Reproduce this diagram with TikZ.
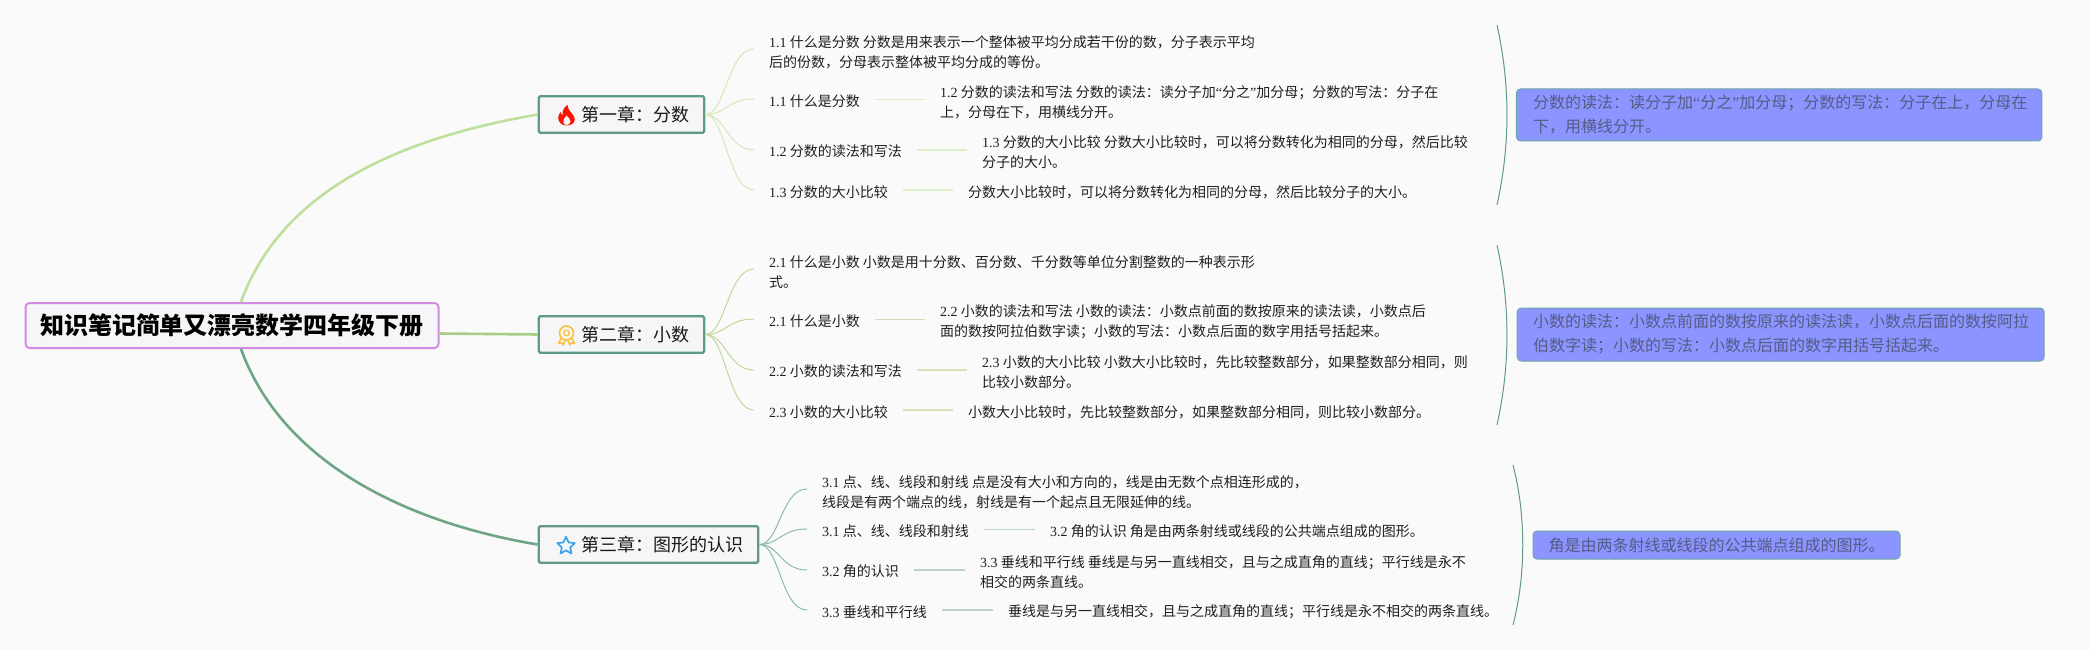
\documentclass[tikz,border=0pt]{standalone}
\usepackage{fontspec}
\setmainfont{Noto Sans CJK SC}
\newfontfamily\latf{Liberation Serif}
\usetikzlibrary{shapes.geometric}
\definecolor{bgc}{HTML}{FAFAFA}
\definecolor{edgeA}{HTML}{BFE09C}
\definecolor{edgeB}{HTML}{A9CC85}
\definecolor{edgeC}{HTML}{6FA585}
\definecolor{brA}{HTML}{D3E9B8}
\definecolor{brB}{HTML}{BFD89E}
\definecolor{brC}{HTML}{8DBBA6}
\definecolor{lnA}{HTML}{DDEFCB}
\definecolor{lnB}{HTML}{D5DFBC}
\definecolor{lnC}{HTML}{B9D3C8}
\definecolor{boxline}{HTML}{5F9A88}
\definecolor{notefill}{HTML}{8C94FF}
\definecolor{noteline}{HTML}{6BA6A6}
\definecolor{notetext}{HTML}{555C85}
\definecolor{rootline}{HTML}{D18BE0}
\definecolor{boxfill}{HTML}{F6F6F8}
\newcommand{\nm}[1]{{\latf #1}}
\newcommand{\qq}[1]{{\latf “}#1{\latf ”}}
\tikzset{
  x=1pt,y=-1pt,
  rootbox/.style={draw=rootline,fill=boxfill,line width=2pt,rounded corners=4pt,minimum width=413pt,minimum height=45pt,inner sep=0pt,font=\fontsize{24}{28}\selectfont\bfseries,text=black},
  chapbox/.style={draw=boxline,fill=boxfill,line width=2.4pt,rounded corners=1.5pt,minimum height=36.5pt,inner sep=0pt,font=\fontsize{18}{22}\selectfont,text=black!90},
  leaf/.style={anchor=west,inner xsep=15pt,inner ysep=0pt,align=left,font=\fontsize{14}{20}\selectfont,text=black!88},
  notebox/.style={draw=noteline,fill=notefill,line width=1pt,rounded corners=4pt,inner ysep=0pt,inner xsep=0pt,align=left,font=\fontsize{16}{24}\selectfont,text=notetext},
  mainedge/.style={line width=2.6pt},
  branch/.style={line width=1pt},
  linkline/.style={line width=1.4pt},
  bracket/.style={draw=boxline,line width=1pt},
}
\newcommand{\brn}[4]{\draw[branch,#1] (#2.east) .. controls +(20,0) and +(-26,0) .. ([yshift=#4pt]#3.west);}
\newcommand{\lnk}[4]{\draw[linkline,#1] ([yshift=#4pt]#2.east) -- ([yshift=#4pt]#2.east -| #3.west);}
\begin{document}
\begin{tikzpicture}
\path[use as bounding box,fill=bgc] (0,0) rectangle (2089,650);

% root and chapters
\node[rootbox] (root) at (232,325.5) {知识笔记简单又漂亮数学四年级下册};
\node[chapbox,minimum width=165.5pt] (ch1) at (621.5,114.5) {\hspace*{28pt}第一章：分数};
\node[chapbox,minimum width=165.5pt] (ch2) at (621.5,334.5) {\hspace*{28pt}第二章：小数};
\node[chapbox,minimum width=219.5pt] (ch3) at (648.5,544.5) {\hspace*{28pt}第三章：图形的认识};

\draw[mainedge,edgeA] ([xshift=9pt]root.north) .. controls (285,180) and (420,135) .. (ch1.west);
\draw[mainedge,edgeB] ([yshift=-8pt]root.east) -- (ch2.west);
\draw[mainedge,edgeC] ([xshift=9pt]root.south) .. controls (285,470) and (420,525) .. (ch3.west);

% icons
\fill[red!85!orange] (566.5,125.5) .. controls (561,125.5) and (558,121.5) .. (558.2,117.5)
  .. controls (558.4,115) and (559.6,113.5) .. (560.5,112) .. controls (561,113.5) and (561.5,114.5) .. (562.5,115)
  .. controls (562,111) and (564,107) .. (567.5,105) .. controls (567.5,108) and (569,110) .. (571,112.5)
  .. controls (573,115) and (575,117) .. (574.8,119.5) .. controls (574.5,123) and (571.5,125.5) .. (566.5,125.5) -- cycle;
\fill[bgc] (566.5,125) .. controls (563,124.5) and (562.5,121) .. (564,119) .. controls (565,118) and (566,117) .. (566.5,115.5)
  .. controls (568,117.5) and (570.5,119) .. (570.5,121.5) .. controls (570.3,123.5) and (568.5,125) .. (566.5,125) -- cycle;

\definecolor{medal}{HTML}{F9C445}
\draw[medal,line width=1.7pt] (566.5,333) circle[radius=7pt];
\draw[medal,line width=1.3pt] (566.5,333) circle[radius=2.8pt];
\draw[medal,line width=1.6pt,line join=round] (561,338.5) -- (558.5,343.5) -- (561.8,343) -- (563.2,345) -- (565,340.5);
\draw[medal,line width=1.6pt,line join=round] (572,338.5) -- (574.5,343.5) -- (571.2,343) -- (569.8,345) -- (568,340.5);

\definecolor{starblue}{HTML}{3FA2E6}
\node[star,star points=5,star point ratio=2.1,draw=starblue,line width=1.7pt,line join=round,minimum size=18.5pt,inner sep=0pt] (staricon) at (566,546) {};

% section 1
\node[leaf] (a1) at (754,52) {\nm{1.1} 什么是分数 分数是用来表示一个整体被平均分成若干份的数，分子表示平均\\后的份数，分母表示整体被平均分成的等份。};
\node[leaf] (a2) at (754,101) {\nm{1.1} 什么是分数};
\node[leaf] (a3) at (754,151) {\nm{1.2} 分数的读法和写法};
\node[leaf] (a4) at (754,192) {\nm{1.3} 分数的大小比较};
\node[leaf] (a2r) at (925,102) {\nm{1.2} 分数的读法和写法 分数的读法：读分子加\qq{分之}加分母；分数的写法：分子在\\上，分母在下，用横线分开。};
\node[leaf] (a3r) at (967,152) {\nm{1.3} 分数的大小比较 分数大小比较时，可以将分数转化为相同的分母，然后比较\\分子的大小。};
\node[leaf] (a4r) at (953,192) {分数大小比较时，可以将分数转化为相同的分母，然后比较分子的大小。};
\brn{brA}{ch1}{a1}{3}
\brn{brA}{ch1}{a2}{2}
\brn{brA}{ch1}{a3}{1}
\brn{brA}{ch1}{a4}{2}
\lnk{lnA}{a2}{a2r}{1.5}
\lnk{lnA}{a3}{a3r}{1}
\lnk{lnA}{a4}{a4r}{2}
\coordinate (t1) at (1497,25);
\coordinate (b1) at (1497,205);
\draw[bracket] (t1) .. controls (1510.3,85) and (1510.3,145) .. (b1);
\node[notebox,minimum width=525.5pt,minimum height=52pt,text width=492pt] (n1) at (1779.2,115) {分数的读法：读分子加\qq{分之}加分母；分数的写法：分子在上，分母在\\下，用横线分开。};

% section 2
\node[leaf] (c1) at (754,272) {\nm{2.1} 什么是小数 小数是用十分数、百分数、千分数等单位分割整数的一种表示形\\式。};
\node[leaf] (c2) at (754,321) {\nm{2.1} 什么是小数};
\node[leaf] (c3) at (754,371) {\nm{2.2} 小数的读法和写法};
\node[leaf] (c4) at (754,412) {\nm{2.3} 小数的大小比较};
\node[leaf] (c2r) at (925,322) {\nm{2.2} 小数的读法和写法 小数的读法：小数点前面的数按原来的读法读，小数点后\\面的数按阿拉伯数字读；小数的写法：小数点后面的数字用括号括起来。};
\node[leaf] (c3r) at (967,372) {\nm{2.3} 小数的大小比较 小数大小比较时，先比较整数部分，如果整数部分相同，则\\比较小数部分。};
\node[leaf] (c4r) at (953,412) {小数大小比较时，先比较整数部分，如果整数部分相同，则比较小数部分。};
\brn{brB}{ch2}{c1}{3}
\brn{brB}{ch2}{c2}{2}
\brn{brB}{ch2}{c3}{1}
\brn{brB}{ch2}{c4}{2}
\lnk{lnB}{c2}{c2r}{1.5}
\lnk{lnB}{c3}{c3r}{1}
\lnk{lnB}{c4}{c4r}{2}
\coordinate (t2) at (1497,245);
\coordinate (b2) at (1497,425);
\draw[bracket] (t2) .. controls (1510.3,305) and (1510.3,365) .. (b2);
\node[notebox,minimum width=527pt,minimum height=53pt,text width=495pt] (n2) at (1780.7,334.5) {小数的读法：小数点前面的数按原来的读法读，小数点后面的数按阿拉\\伯数字读；小数的写法：小数点后面的数字用括号括起来。};

% section 3
\node[leaf] (e1) at (807,492) {\nm{3.1} 点、线、线段和射线 点是没有大小和方向的，线是由无数个点相连形成的，\\线段是有两个端点的线，射线是有一个起点且无限延伸的线。};
\node[leaf] (e2) at (807,531) {\nm{3.1} 点、线、线段和射线};
\node[leaf] (e3) at (807,571) {\nm{3.2} 角的认识};
\node[leaf] (e4) at (807,612) {\nm{3.3} 垂线和平行线};
\node[leaf] (e2r) at (1035,531) {\nm{3.2} 角的认识 角是由两条射线或线段的公共端点组成的图形。};
\node[leaf] (e3r) at (965,572) {\nm{3.3} 垂线和平行线 垂线是与另一直线相交，且与之成直角的直线；平行线是永不\\相交的两条直线。};
\node[leaf] (e4r) at (993,612) {垂线是与另一直线相交，且与之成直角的直线；平行线是永不相交的两条直线。};
\brn{brC}{ch3}{e1}{3}
\brn{brC}{ch3}{e2}{2}
\brn{brC}{ch3}{e3}{1}
\brn{brC}{ch3}{e4}{2}
\lnk{lnC}{e2}{e2r}{1.5}
\lnk{lnC}{e3}{e3r}{1}
\lnk{lnC}{e4}{e4r}{2}
\coordinate (t3) at (1513,465);
\coordinate (b3) at (1513,625);
\draw[bracket] (t3) .. controls (1526,515) and (1526,575) .. (b3);
\node[notebox,minimum width=367pt,minimum height=28pt,text width=336pt] (n3) at (1716.5,545) {角是由两条射线或线段的公共端点组成的图形。};
\end{tikzpicture}
\end{document}
